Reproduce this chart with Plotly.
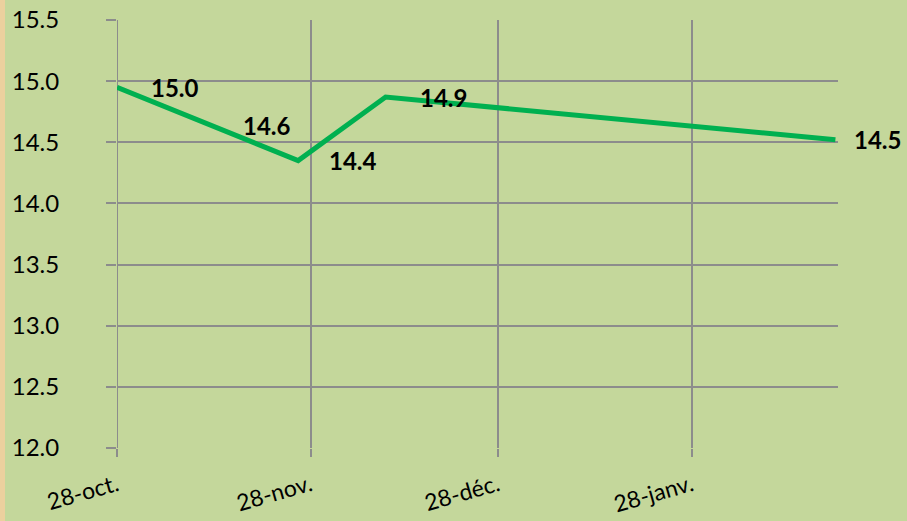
import plotly.graph_objects as go

dates = ["2018-10-28", "2018-11-12", "2018-11-26", "2018-12-10", "2019-02-20"]
values = [14.95, 14.64, 14.35, 14.87, 14.52]
labels = ["15.0", "14.6", "14.4", "14.9", "14.5"]
tick_dates = ["2018-10-28", "2018-11-28", "2018-12-28", "2019-01-28"]
tick_text = ["28-oct.", "28-nov.", "28-déc.", "28-janv."]
y_ticks = [12.0, 12.5, 13.0, 13.5, 14.0, 14.5, 15.0, 15.5]

W, H = 907, 521
L, R, T, B = 117, 69, 20, 73
BG = "#c4d79b"
GRID = "#8c8c8c"
FONT = "Lato, Open Sans, sans-serif"
label_shift = [32, 30, 29, 32, 17]

fig = go.Figure()
fig.add_trace(go.Scatter(
    x=dates, y=values, mode="lines",
    line=dict(color="#00b050", width=5),
    hoverinfo="skip",
))

for d, v, t, s in zip(dates, values, labels, label_shift):
    fig.add_annotation(x=d, y=v, text=t, showarrow=False,
                       xanchor="left", yanchor="middle", xshift=s,
                       font=dict(family=FONT, size=24, color="black", weight="bold"))

pw = W - L - R
ph = H - T - B
fig.add_shape(type="rect", xref="paper", yref="paper",
              x0=-L / pw, x1=(5 - L) / pw, y0=-B / ph, y1=1 + T / ph,
              fillcolor="#ecd09e", line_width=0, layer="below")

fig.update_layout(
    width=W, height=H,
    margin=dict(l=L, r=R, t=T, b=B, autoexpand=False),
    paper_bgcolor=BG, plot_bgcolor=BG,
    showlegend=False,
    font=dict(family=FONT, size=24, color="black"),
    xaxis=dict(
        type="date", automargin=False,
        range=["2018-10-28", "2019-02-20 10:00"],
        tickvals=tick_dates, ticktext=tick_text,
        tickangle=-16,
        showgrid=True, gridcolor=GRID, gridwidth=2,
        ticks="outside", ticklen=8, tickwidth=2, tickcolor=GRID,
        showline=False, zeroline=False,
        tickfont=dict(family=FONT, size=23),
        ticklabelstandoff=6,
    ),
    yaxis=dict(
        automargin=False,
        range=[12.0, 15.5],
        tickvals=y_ticks, ticktext=[f"{v:.1f}" for v in y_ticks],
        showgrid=True, gridcolor=GRID, gridwidth=2,
        ticks="outside", ticklen=10, tickwidth=2, tickcolor=GRID,
        showline=False, zeroline=False,
        tickfont=dict(family=FONT, size=24),
        ticklabelstandoff=42,
    ),
)
fig.add_vline(x="2018-10-28", line_color=GRID, line_width=2, layer="below")

fig.write_html("out.html", config={"displayModeBar": False},
               post_script="document.body.style.margin='0';document.body.style.overflow='hidden';")
